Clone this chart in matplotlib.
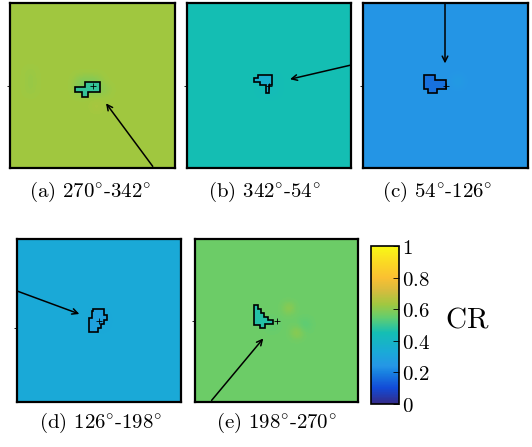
import matplotlib
matplotlib.use("Agg")
import matplotlib.pyplot as plt
import numpy as np
from matplotlib.colors import LinearSegmentedColormap, Normalize
from matplotlib.patches import Polygon
from matplotlib.cm import ScalarMappable

plt.rcParams['mathtext.fontset'] = 'cm'

# parula-like colormap (anchor colours)
PARULA_POS = [0.0, 0.10, 0.20, 0.24, 0.33, 0.45, 0.55, 0.63, 0.72, 0.80, 0.90, 1.0]
PARULA_RGB = [(53, 42, 135), (18, 75, 215), (25, 130, 225), (37, 150, 230),
              (26, 170, 215), (20, 190, 180), (100, 205, 110), (160, 200, 64),
              (215, 188, 62), (250, 192, 50), (250, 218, 35), (249, 250, 20)]

# sector labels
labels = [r"$\text{(a) }270^{\circ}\text{-}342^{\circ}$",
          r"$\text{(b) }342^{\circ}\text{-}54^{\circ}$",
          r"$\text{(c) }54^{\circ}\text{-}126^{\circ}$",
          r"$\text{(d) }126^{\circ}\text{-}198^{\circ}$",
          r"$\text{(e) }198^{\circ}\text{-}270^{\circ}$"]

# CR background value of each map and value inside the outlined region
base_cr = [0.63, 0.45, 0.24, 0.33, 0.56]
inner_cr = [0.49, 0.36, 0.17, 0.29, 0.47]

# local deviations on a 20x20 grid: (row0, row1, col0, col1, value)
patches_a = [(9, 11, 8, 11, 0.58), (10, 11, 11, 12, 0.60), (8, 11, 2, 3, 0.615),
             (12, 13, 10, 11, 0.655)]
patches_b = [(9, 11, 9, 11, 0.43)]
patches_c = [(9, 10, 11, 12, 0.28)]
patches_d = [(9, 11, 9, 11, 0.31)]
patches_e = [(8, 9, 11, 12, 0.64), (11, 12, 12, 13, 0.64), (10, 11, 13, 14, 0.52),
             (10, 11, 9, 10, 0.53)]
all_patches = [patches_a, patches_b, patches_c, patches_d, patches_e]

# outlined regions (map units 0..100, y from top)
shape_a = [(39.4, 50.9), (45.5, 50.9), (45.5, 47.9), (54.5, 47.9), (54.5, 53.9), (47.3, 53.9),
           (47.3, 57.0), (43.6, 57.0), (43.6, 53.9), (39.4, 53.9)]
shape_b = [(40.9, 45.5), (43.3, 45.5), (43.3, 43.6), (51.8, 43.6), (51.8, 49.7), (50.0, 49.7),
           (50.0, 54.5), (48.2, 54.5), (48.2, 49.7), (44.5, 49.7), (44.5, 47.9), (40.9, 47.9)]
shape_c = [(37.0, 43.6), (43.6, 43.6), (43.6, 46.7), (50.3, 46.7), (50.3, 52.1), (44.8, 52.1),
           (44.8, 54.5), (39.4, 54.5), (39.4, 52.1), (37.0, 52.1)]
shape_d = [(46.3, 42.9), (53.0, 42.9), (53.0, 46.6), (54.9, 46.6), (54.9, 49.7), (53.0, 49.7),
           (53.0, 52.1), (51.2, 52.1), (51.2, 54.6), (49.4, 54.6), (49.4, 57.1), (43.9, 57.1),
           (43.9, 48.5), (45.7, 48.5), (45.7, 44.2), (46.3, 44.2)]
shape_e = [(36.2, 40.5), (38.7, 40.5), (38.7, 42.9), (40.5, 42.9), (40.5, 45.4), (42.3, 45.4),
           (42.3, 47.9), (44.8, 47.9), (44.8, 49.7), (47.9, 49.7), (47.9, 52.1), (42.9, 52.1),
           (42.9, 54.6), (39.9, 54.6), (39.9, 52.8), (36.2, 52.8)]
shapes = [shape_a, shape_b, shape_c, shape_d, shape_e]

# arrows: (tail, head) in map units
arrows = [((86.5, 99.0), (58.2, 60.8)),
          ((100.0, 37.6), (62.8, 46.2)),
          ((49.7, 0.0), (49.7, 36.6)),
          ((0.0, 31.9), (38.0, 46.0)),
          ((10.2, 99.0), (41.9, 61.0))]

# left tick position on each map
tick_pos = [50, 50, 50, 54.6, 50]

W, H = 532, 447
fig = plt.figure(figsize=(W / 100, H / 100), dpi=100)

def px_rect(l, t, r, b):
    return [l / W, (H - b) / H, (r - l) / W, (b - t) / H]

ax_rects = [px_rect(10, 3, 175, 168), px_rect(187, 3, 351, 168), px_rect(363, 3, 528, 168),
            px_rect(17, 239, 181, 402), px_rect(195, 239, 358, 402)]
label_xy = [(90, 192), (264, 192), (437, 192), (101, 423), (276, 423)]

cmap = LinearSegmentedColormap.from_list(
    "parula", list(zip(PARULA_POS, [tuple(c / 255 for c in rgb) for rgb in PARULA_RGB])))
norm = Normalize(0, 1)

for i in range(5):
    ax = fig.add_axes(ax_rects[i])
    grid = np.full((20, 20), base_cr[i])
    for r0, r1, c0, c1, v in all_patches[i]:
        grid[r0:r1, c0:c1] = v
    ax.imshow(grid, cmap=cmap, norm=norm, extent=(0, 100, 100, 0),
              interpolation='bicubic', aspect='auto')
    ax.add_patch(Polygon(shapes[i], closed=True, facecolor=cmap(norm(inner_cr[i])),
                         edgecolor='k', lw=1.2, zorder=3))
    ax.plot(50, 50, marker='+', color='k', ms=5, mew=0.6, zorder=4)
    tail, head = arrows[i]
    ax.annotate('', xy=head, xytext=tail,
                arrowprops=dict(arrowstyle='->', color='k', lw=1.1,
                                shrinkA=0, shrinkB=0, mutation_scale=10),
                zorder=5, annotation_clip=False)
    ax.set_xlim(0, 100)
    ax.set_ylim(100, 0)
    ax.set_xticks([])
    ax.set_yticks([tick_pos[i]])
    ax.set_yticklabels([])
    ax.tick_params(axis='y', length=2, width=0.6, direction='out')
    for s in ax.spines.values():
        s.set_linewidth(1.6)
    fig.text(label_xy[i][0] / W, 1 - label_xy[i][1] / H, labels[i],
             ha='center', va='center', fontsize=15)

# colorbar
cax = fig.add_axes(px_rect(371, 246, 399, 404))
cb = fig.colorbar(ScalarMappable(norm=norm, cmap=cmap), cax=cax)
cb_ticks = [0, 0.2, 0.4, 0.6, 0.8, 1]
cb.set_ticks(cb_ticks)
cb.set_ticklabels([r"$%g$" % t for t in cb_ticks])
cb.outline.set_linewidth(1.2)
cax.tick_params(direction='in', length=4, width=0.6, labelsize=15, pad=2)
fig.text(467 / W, 1 - 320 / H, r"$\mathrm{CR}$", ha='center', va='center', fontsize=21)

fig.savefig("out.png", dpi=100)
